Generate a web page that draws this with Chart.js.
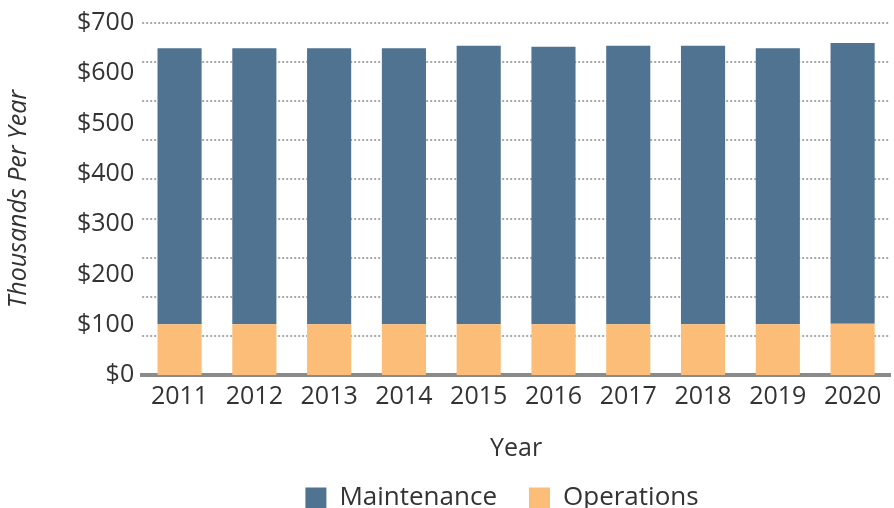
<!DOCTYPE html>
<html>
<head>
<meta charset="utf-8">
<script src="https://cdn.jsdelivr.net/npm/chart.js@4/dist/chart.umd.min.js"></script>
<style>
  html, body { margin: 0; padding: 0; background: #ffffff; }
  #wrap { width: 894px; height: 508px; }
</style>
</head>
<body>
<div id="wrap"><canvas id="c" width="894" height="508"></canvas></div>
<script>
const years = ['2011','2012','2013','2014','2015','2016','2017','2018','2019','2020'];
const maintenance = [549, 549, 549, 549, 554, 552, 554, 554, 549, 558];
const operations = [101, 101, 101, 101, 101, 101, 101, 101, 101, 102];
const yTickValues = [0, 100, 200, 300, 400, 500, 600, 700];

const FONT = '"Open Sans", sans-serif';
const TEXT = '#333333';

// shifts the centred legend block a little to the right, as in the reference
const legendShift = {
  id: 'legendShift',
  afterLayout(chart) {
    const lg = chart.legend;
    if (!lg || lg._shifted) return;
    lg.left += 55;
    lg.right += 55;
    lg._shifted = true;
  }
};

new Chart(document.getElementById('c'), {
  type: 'bar',
  data: {
    labels: years,
    datasets: [
      { label: 'Operations', data: operations, backgroundColor: '#FBBD77', stack: 's' },
      { label: 'Maintenance', data: maintenance, backgroundColor: '#4F7391', stack: 's' }
    ]
  },
  plugins: [legendShift],
  options: {
    responsive: false,
    devicePixelRatio: 1,
    animation: false,
    layout: { padding: { top: 1, right: 4, left: 4, bottom: -13 } },
    datasets: { bar: { categoryPercentage: 1.0, barPercentage: 0.59 } },
    plugins: {
      tooltip: { enabled: false },
      legend: {
        position: 'bottom',
        reverse: true,
        labels: {
          boxWidth: 21, boxHeight: 21, padding: 32,
          color: TEXT, font: { family: FONT, size: 26 }
        }
      }
    },
    scales: {
      x: {
        stacked: true,
        grid: { display: false, drawTicks: false },
        border: { display: true, color: '#8a8a8a', width: 4 },
        ticks: { color: TEXT, font: { family: FONT, size: 25 }, padding: 7, maxRotation: 0 },
        title: { display: true, text: 'Year', color: TEXT, font: { family: FONT, size: 25 }, padding: { top: 15, bottom: -11 } }
      },
      y: {
        stacked: true,
        min: 0, max: 700,
        afterBuildTicks: (axis) => { axis.ticks = yTickValues.map(v => ({ value: v })); },
        grid: { display: false, drawTicks: false },
        border: { display: false },
        ticks: { color: TEXT, font: { family: FONT, size: 25 }, padding: 8, callback: (v) => '$' + v },
        title: { display: true, text: 'Thousands Per Year', color: TEXT, font: { family: FONT, size: 25, style: 'italic' }, padding: { top: 0, bottom: 35 } }
      },
      yg: {
        position: 'right',
        min: 0, max: 9,
        ticks: { display: false, stepSize: 1 },
        grid: { color: '#a8a8a8', lineWidth: 2, drawTicks: false },
        border: { display: false, dash: [2, 2] }
      }
    }
  }
});
</script>
</body>
</html>
